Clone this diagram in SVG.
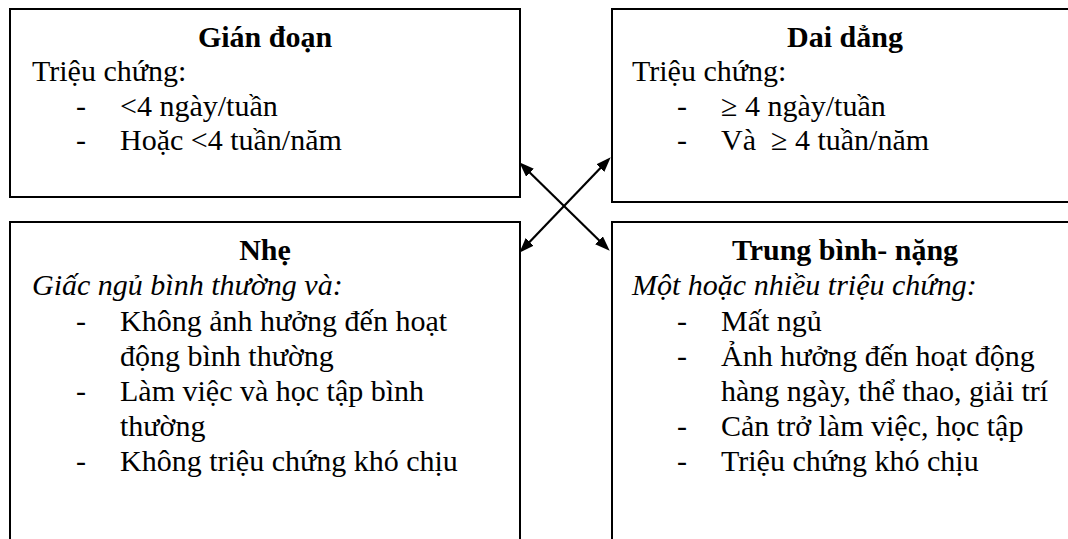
<svg xmlns="http://www.w3.org/2000/svg" width="1068" height="539" viewBox="0 0 1068 539">
  <style>
    .box { fill: #ffffff; stroke: #000000; stroke-width: 2; }
    text { font-family: "Liberation Serif", "Times New Roman", serif; font-size: 30px; fill: #000000; }
    .title { font-weight: bold; text-anchor: middle; }
    .lead { font-style: italic; }
    .link { stroke: #000000; stroke-width: 2.2; fill: none; marker-start: url(#head); marker-end: url(#head); }
  </style>
  <defs>
    <marker id="head" markerUnits="userSpaceOnUse" markerWidth="16" markerHeight="12" refX="4" refY="5.5" orient="auto-start-reverse">
      <path d="M0,0 L15,5.5 L0,11 z" fill="#000000"/>
    </marker>
  </defs>

  <rect width="1068" height="539" fill="#ffffff"/>

  <!-- Intermittent -->
  <g id="gian-doan">
    <rect class="box" x="10" y="9" width="510" height="188"/>
    <text class="title" x="265" y="47">Gián đoạn</text>
    <text x="32" y="81">Triệu chứng:</text>
    <text x="76" y="116">-</text>
    <text x="120" y="116">&lt;4 ngày/tuần</text>
    <text x="76" y="150">-</text>
    <text x="120" y="150">Hoặc &lt;4 tuần/năm</text>
  </g>

  <!-- Persistent -->
  <g id="dai-dang">
    <rect class="box" x="612" y="9" width="468" height="193"/>
    <text class="title" x="845" y="47">Dai dẳng</text>
    <text x="632" y="81">Triệu chứng:</text>
    <text x="677" y="116">-</text>
    <text x="721" y="116">≥ 4 ngày/tuần</text>
    <text x="677" y="150">-</text>
    <text x="721" y="150" xml:space="preserve">Và  ≥ 4 tuần/năm</text>
  </g>

  <!-- Mild -->
  <g id="nhe">
    <rect class="box" x="10" y="222" width="510" height="330"/>
    <text class="title" x="265" y="260">Nhẹ</text>
    <text class="lead" x="32" y="295">Giấc ngủ bình thường và:</text>
    <text x="76" y="331">-</text>
    <text x="120" y="331">Không ảnh hưởng đến hoạt</text>
    <text x="120" y="366">động bình thường</text>
    <text x="76" y="401">-</text>
    <text x="120" y="401">Làm việc và học tập bình</text>
    <text x="120" y="436">thường</text>
    <text x="76" y="471">-</text>
    <text x="120" y="471">Không triệu chứng khó chịu</text>
  </g>

  <!-- Moderate to severe -->
  <g id="trung-binh-nang">
    <rect class="box" x="612" y="222" width="468" height="330"/>
    <text class="title" x="845" y="260">Trung bình- nặng</text>
    <text class="lead" x="632" y="295">Một hoặc nhiều triệu chứng:</text>
    <text x="677" y="331">-</text>
    <text x="721" y="331">Mất ngủ</text>
    <text x="677" y="366">-</text>
    <text x="721" y="366">Ảnh hưởng đến hoạt động</text>
    <text x="721" y="401">hàng ngày, thể thao, giải trí</text>
    <text x="677" y="436">-</text>
    <text x="721" y="436">Cản trở làm việc, học tập</text>
    <text x="677" y="471">-</text>
    <text x="721" y="471">Triệu chứng khó chịu</text>
  </g>

  <!-- Crossed double-headed connectors -->
  <g id="connectors">
    <line class="link" x1="527.15" y1="169.99" x2="601.85" y2="243.01"/>
    <line class="link" x1="603.08" y1="165.22" x2="526.92" y2="244.78"/>
  </g>
</svg>
